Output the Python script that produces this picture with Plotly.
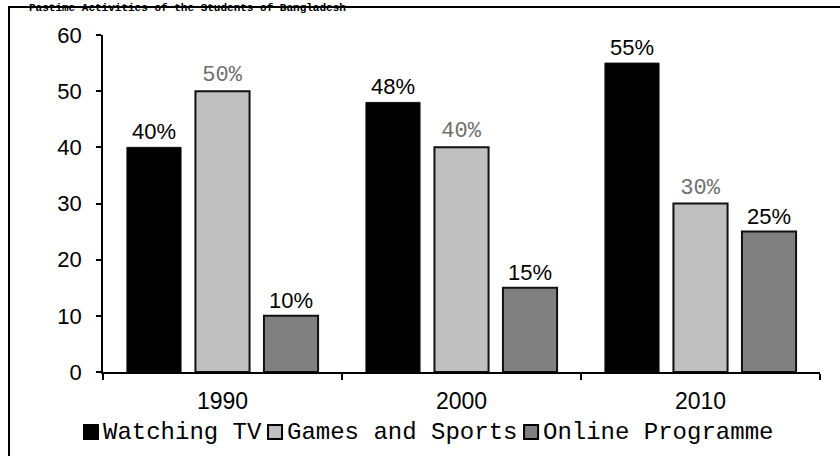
import plotly.graph_objects as go

# Share of students (%) by pastime activity and year
years = ["1990", "2000", "2010"]
watching_tv = [40, 48, 55]
games_sports = [50, 40, 30]
online_programme = [10, 15, 25]
y_ticks = [0, 10, 20, 30, 40, 50, 60]

series_names = ["Watching TV", "Games and Sports", "Online Programme"]
series_colors = ["#000000", "#C0C0C0", "#808080"]

W, H = 840, 456
L, R, T, B = 103, 20, 35, 84
PW, PH = W - L - R, H - T - B


def px_x(x):
    return (x - L) / PW


def px_y(y):
    return 1 - (y - T) / PH


sans = "Liberation Sans, Arial, sans-serif"
mono = "Liberation Mono, Courier New, monospace"
label_fonts = [
    dict(family=sans, size=22, color="#000000"),
    dict(family=mono, size=22, color="#6e6e6e"),
    dict(family=sans, size=22, color="#000000"),
]
border_widths = [1, 2, 2]

fig = go.Figure()
for name, vals, color, tfont, bw in zip(series_names,
                                        [watching_tv, games_sports, online_programme],
                                        series_colors, label_fonts, border_widths):
    fig.add_trace(go.Bar(
        name=name, x=years, y=vals,
        marker=dict(color=color, line=dict(color="#111111", width=bw)),
        text=[f"{v}%" for v in vals], textposition="outside",
        textfont=tfont, cliponaxis=False, showlegend=False,
    ))

# Legend drawn as small bordered squares followed by monospace labels
leg_font = 24
char_w = 0.6 * leg_font
leg_x, leg_y, sq = 84, 432, 14
shapes = []
annotations = []
x = leg_x
for name, color in zip(series_names, series_colors):
    shapes.append(dict(
        type="rect", xref="paper", yref="paper",
        x0=px_x(x), x1=px_x(x + sq), y0=px_y(leg_y + sq / 2), y1=px_y(leg_y - sq / 2),
        line=dict(color="#000000", width=2), fillcolor=color,
    ))
    annotations.append(dict(
        text=name, xref="paper", yref="paper",
        x=px_x(x + sq + 3), y=px_y(leg_y), xanchor="left", yanchor="middle",
        showarrow=False, font=dict(family=mono, size=leg_font, color="#000000"),
    ))
    x = x + sq + 3 + len(name) * char_w + char_w * 0.6

# Outer frame
shapes.append(dict(
    type="rect", xref="paper", yref="paper",
    x0=px_x(9), x1=px_x(852), y0=px_y(470), y1=px_y(7),
    line=dict(color="#000000", width=2), fillcolor="rgba(0,0,0,0)", layer="below",
))

annotations.append(dict(
    text="<b>Pastime Activities of the Students of Bangladesh</b>",
    xref="paper", yref="paper", x=px_x(27), y=px_y(0),
    xanchor="left", yanchor="top", showarrow=False,
    font=dict(family=mono, size=11, color="#000000"),
))

fig.update_layout(
    width=W, height=H, autosize=False,
    margin=dict(l=L, r=R, t=T, b=B, pad=0),
    paper_bgcolor="white", plot_bgcolor="white",
    barmode="group", bargap=0.14, bargroupgap=0.21,
    showlegend=False,
    xaxis=dict(
        showline=True, linecolor="#000000", linewidth=1.5,
        ticks="outside", tickson="boundaries", ticklen=6,
        tickcolor="#000000", tickwidth=1.5,
        tickfont=dict(family=sans, size=23, color="#000000"),
        ticklabelstandoff=8,
        showgrid=False, zeroline=False,
    ),
    yaxis=dict(
        range=[0, 60], tickvals=y_ticks,
        showline=True, linecolor="#000000", linewidth=1.5,
        ticks="outside", ticklen=5, tickcolor="#000000", tickwidth=1.5,
        tickfont=dict(family=sans, size=22, color="#000000"),
        ticklabelstandoff=10,
        showgrid=False, zeroline=False,
    ),
    shapes=shapes,
    annotations=annotations,
)

fig.write_html("out.html")
